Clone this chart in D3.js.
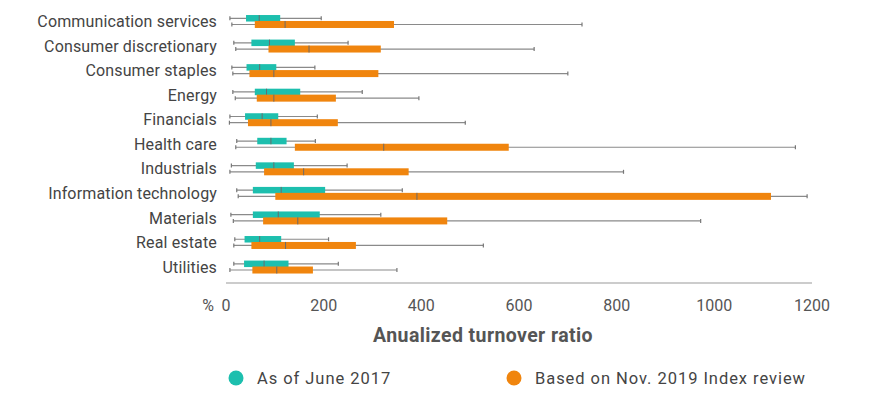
<!DOCTYPE html>
<html>
<head>
<meta charset="utf-8">
<script src="https://cdn.jsdelivr.net/npm/d3@7"></script>
<style>
  body { margin: 0; background: #fff; }
  text { font-family: Roboto, "Noto Sans", sans-serif; }
</style>
</head>
<body>
<div id="chart"></div>
<script>
// sectors, top to bottom
const sectors = ["Communication services", "Consumer discretionary", "Consumer staples", "Energy",
    "Financials", "Health care", "Industrials", "Information technology", "Materials",
    "Real estate", "Utilities"];

// [min, q1, median, q3, max] per sector
const june2017 = [
    [8, 41, 68, 111, 195],
    [16, 52, 89, 141, 250],
    [12, 42, 69, 103, 182],
    [14, 59, 83, 152, 279],
    [8, 39, 74, 107, 187],
    [22, 64, 92, 124, 183],
    [11, 61, 98, 139, 248],
    [22, 55, 113, 203, 361],
    [10, 55, 107, 192, 317],
    [18, 38, 69, 113, 210],
    [16, 37, 78, 128, 230]
];

const nov2019 = [
    [12, 59, 121, 344, 729],
    [20, 87, 170, 317, 631],
    [14, 48, 98, 312, 700],
    [19, 63, 98, 225, 395],
    [7, 45, 92, 229, 490],
    [20, 141, 323, 579, 1166],
    [8, 78, 159, 374, 814],
    [25, 101, 391, 1116, 1190],
    [15, 76, 147, 453, 972],
    [16, 52, 122, 266, 527],
    [8, 54, 104, 178, 350]
];

const xTicks = [0, 200, 400, 600, 800, 1000, 1200];

const series = [
    {name: "As of June 2017", color: "#1dbfae", values: june2017, offset: -3.2, h: 6.5},
    {name: "Based on Nov. 2019 Index review", color: "#f0850e", values: nov2019, offset: 3, h: 7}
];

const width = 870, height = 397;

const svg = d3.select("#chart").append("svg")
    .attr("width", width)
    .attr("height", height);

const x = d3.scaleLinear().domain([0, 1200]).range([226, 812]);
const y = d3.scaleBand().domain(sectors).range([9.2, 279.3]);

// sector labels
svg.append("g")
    .selectAll("text")
    .data(sectors)
    .enter()
    .append("text")
    .attr("x", 217)
    .attr("y", d => y(d) + y.bandwidth() / 2)
    .attr("dy", "0.35em")
    .attr("text-anchor", "end")
    .attr("font-size", 16)
    .attr("letter-spacing", 0.15)
    .attr("fill", "#444")
    .text(d => d);

// boxes
series.forEach(s => {
    const g = svg.append("g");
    const rows = g.selectAll("g")
        .data(s.values.map((v, i) => ({sector: sectors[i], v: v})))
        .enter()
        .append("g")
        .attr("transform", d => `translate(0,${y(d.sector) + y.bandwidth() / 2 + s.offset})`);

    // whisker line
    rows.append("line")
        .attr("x1", d => x(d.v[0]))
        .attr("x2", d => x(d.v[4]))
        .attr("stroke", "#8a8a8a")
        .attr("stroke-width", 1.2);

    // end caps
    rows.selectAll(".cap")
        .data(d => [d.v[0], d.v[4]])
        .enter()
        .append("line")
        .attr("class", "cap")
        .attr("x1", d => x(d)).attr("x2", d => x(d))
        .attr("y1", -2).attr("y2", 2)
        .attr("stroke", "#777")
        .attr("stroke-width", 1.2);

    rows.append("rect")
        .attr("x", d => x(d.v[1]))
        .attr("width", d => x(d.v[3]) - x(d.v[1]))
        .attr("y", -s.h / 2)
        .attr("height", s.h)
        .attr("fill", s.color);

    // median
    rows.append("line")
        .attr("x1", d => x(d.v[2])).attr("x2", d => x(d.v[2]))
        .attr("y1", -s.h / 2).attr("y2", s.h / 2)
        .attr("stroke", "#6b6b6b")
        .attr("stroke-width", 1);
});

// x axis
const axisY = 283;
svg.append("line")
    .attr("x1", x(0)).attr("x2", x(1200))
    .attr("y1", axisY).attr("y2", axisY)
    .attr("stroke", "#999")
    .attr("stroke-width", 1);

svg.append("g")
    .selectAll("text")
    .data(xTicks)
    .enter()
    .append("text")
    .attr("x", d => x(d))
    .attr("y", 305)
    .attr("dy", "0.35em")
    .attr("text-anchor", "middle")
    .attr("font-size", 16)
    .attr("fill", "#555")
    .text(d => d);

svg.append("text")
    .attr("x", 214)
    .attr("y", 305)
    .attr("dy", "0.35em")
    .attr("text-anchor", "end")
    .attr("font-size", 16)
    .attr("fill", "#555")
    .text("%");

svg.append("text")
    .attr("x", 483)
    .attr("y", 335)
    .attr("dy", "0.35em")
    .attr("text-anchor", "middle")
    .attr("font-size", 19.5)
    .attr("letter-spacing", 0.4)
    .attr("font-weight", "bold")
    .attr("fill", "#555")
    .text("Anualized turnover ratio");

// legend
const legendX = [236, 514];
const legend = svg.append("g")
    .selectAll("g")
    .data(series)
    .enter()
    .append("g")
    .attr("transform", (d, i) => `translate(${legendX[i]},378)`);

legend.append("circle")
    .attr("r", 7.5)
    .attr("fill", d => d.color);

legend.append("text")
    .attr("x", 21)
    .attr("dy", "0.35em")
    .attr("font-size", 16.5)
    .attr("letter-spacing", 0.95)
    .attr("fill", "#444")
    .text(d => d.name);
</script>
</body>
</html>
